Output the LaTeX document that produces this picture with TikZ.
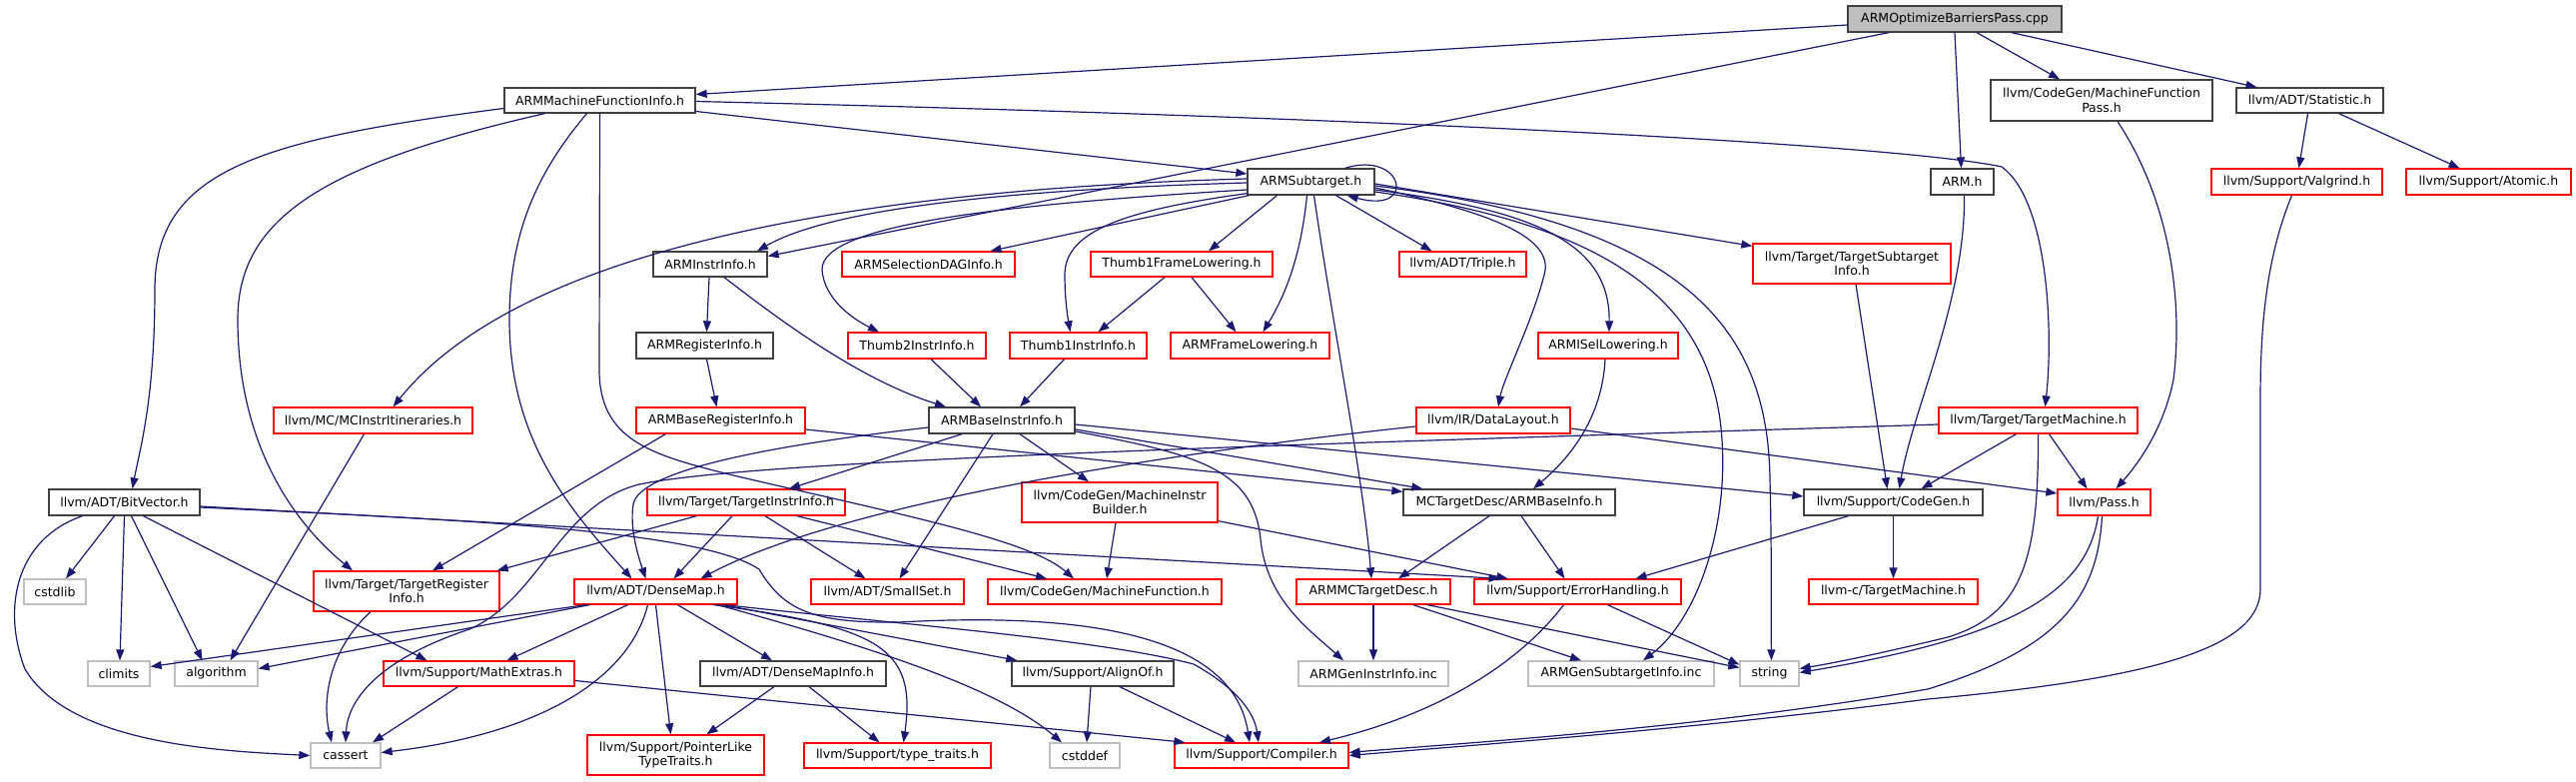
\documentclass[tikz,border=0pt]{standalone}
\usepackage{fontspec}
\setmainfont{DejaVu Sans}
\usetikzlibrary{arrows.meta,calc}
\definecolor{edgec}{HTML}{191970}
\definecolor{redb}{HTML}{FF0000}
\definecolor{greyb}{HTML}{BFBFBF}
\definecolor{blackb}{HTML}{404040}
\begin{document}
\begin{tikzpicture}[x=1pt,y=-1pt,
  box/.style={rectangle, draw, line width=1.3pt, fill=white, inner sep=0pt, align=center, text=black, font=\fontsize{12.5}{14.5}\selectfont},
  redbox/.style={box, draw=redb},
  blkbox/.style={box, draw=blackb},
  grybox/.style={box, draw=greyb},
  rootbox/.style={box, draw=blackb, fill=greyb},
  e/.style={draw=edgec, line width=1.2pt, -{Triangle[length=11pt,width=8pt]}}]
\useasboundingbox (0,0) rectangle (2579,783);
% nodes
\node[rootbox, minimum width=214pt, minimum height=26pt] (A) at (1957,19) {ARMOptimizeBarriersPass.cpp};
\node[blkbox, minimum width=191pt, minimum height=25pt] (AMFI) at (600.5,100.5) {ARMMachineFunctionInfo.h};
\node[blkbox, minimum width=222pt, minimum height=41pt] (MFP) at (2104,100.5) {llvm/CodeGen/MachineFunction\\Pass.h};
\node[blkbox, minimum width=147pt, minimum height=25pt] (Stat) at (2312.5,100.5) {llvm/ADT/Statistic.h};
\node[blkbox, minimum width=63pt, minimum height=26pt] (ARMh) at (1964.5,182) {ARM.h};
\node[redbox, minimum width=171pt, minimum height=26pt] (Valg) at (2299.5,182) {llvm/Support/Valgrind.h};
\node[redbox, minimum width=165pt, minimum height=26pt] (Atom) at (2491.5,182) {llvm/Support/Atomic.h};
\node[blkbox, minimum width=127pt, minimum height=26pt] (Sub) at (1312.5,182) {ARMSubtarget.h};
\node[blkbox, minimum width=114pt, minimum height=25pt] (II) at (711,264.5) {ARMInstrInfo.h};
\node[redbox, minimum width=173pt, minimum height=25pt] (DAG) at (929.5,264.5) {ARMSelectionDAGInfo.h};
\node[redbox, minimum width=182pt, minimum height=25pt] (T1FL) at (1183,264.5) {Thumb1FrameLowering.h};
\node[redbox, minimum width=127pt, minimum height=25pt] (Trip) at (1464.5,264.5) {llvm/ADT/Triple.h};
\node[redbox, minimum width=198pt, minimum height=40pt] (TSI) at (1854,264) {llvm/Target/TargetSubtarget\\Info.h};
\node[blkbox, minimum width=137pt, minimum height=26pt] (RI) at (705.5,346) {ARMRegisterInfo.h};
\node[redbox, minimum width=138pt, minimum height=26pt] (T2II) at (918,346) {Thumb2InstrInfo.h};
\node[redbox, minimum width=137pt, minimum height=26pt] (T1II) at (1079.5,346) {Thumb1InstrInfo.h};
\node[redbox, minimum width=159pt, minimum height=26pt] (FL) at (1251.5,346) {ARMFrameLowering.h};
\node[redbox, minimum width=140pt, minimum height=26pt] (ISel) at (1610,346) {ARMISelLowering.h};
\node[redbox, minimum width=199pt, minimum height=26pt] (MCII) at (373.5,421) {llvm/MC/MCInstrItineraries.h};
\node[redbox, minimum width=169pt, minimum height=26pt] (BRI) at (721.5,421) {ARMBaseRegisterInfo.h};
\node[blkbox, minimum width=146pt, minimum height=26pt] (BII) at (1003,421) {ARMBaseInstrInfo.h};
\node[redbox, minimum width=154pt, minimum height=26pt] (DL) at (1495,421) {llvm/IR/DataLayout.h};
\node[redbox, minimum width=199pt, minimum height=26pt] (TM) at (2040.5,421) {llvm/Target/TargetMachine.h};
\node[blkbox, minimum width=151pt, minimum height=26pt] (BV) at (124.5,503) {llvm/ADT/BitVector.h};
\node[redbox, minimum width=198pt, minimum height=26pt] (TII) at (747,503) {llvm/Target/TargetInstrInfo.h};
\node[redbox, minimum width=196pt, minimum height=40pt] (MIB) at (1121,503) {llvm/CodeGen/MachineInstr\\Builder.h};
\node[blkbox, minimum width=212pt, minimum height=26pt] (BI) at (1511,503) {MCTargetDesc/ARMBaseInfo.h};
\node[blkbox, minimum width=179pt, minimum height=26pt] (CG) at (1895.5,503) {llvm/Support/CodeGen.h};
\node[redbox, minimum width=93pt, minimum height=26pt] (Pass) at (2106.5,503) {llvm/Pass.h};
\node[grybox, minimum width=62pt, minimum height=25pt] (cstdlib) at (55,592.5) {cstdlib};
\node[redbox, minimum width=186pt, minimum height=40pt] (TRI) at (407,592) {llvm/Target/TargetRegister\\Info.h};
\node[redbox, minimum width=163pt, minimum height=25pt] (DM) at (656.5,592.5) {llvm/ADT/DenseMap.h};
\node[redbox, minimum width=153pt, minimum height=25pt] (SS) at (888.5,592.5) {llvm/ADT/SmallSet.h};
\node[redbox, minimum width=234pt, minimum height=25pt] (MF) at (1106,592.5) {llvm/CodeGen/MachineFunction.h};
\node[redbox, minimum width=154pt, minimum height=25pt] (MCTD) at (1375,592.5) {ARMMCTargetDesc.h};
\node[redbox, minimum width=207pt, minimum height=25pt] (EH) at (1579.5,592.5) {llvm/Support/ErrorHandling.h};
\node[redbox, minimum width=169pt, minimum height=25pt] (LCTM) at (1895.5,592.5) {llvm-c/TargetMachine.h};
\node[grybox, minimum width=62pt, minimum height=25pt] (climits) at (119,674.5) {climits};
\node[grybox, minimum width=83pt, minimum height=25pt] (algorithm) at (216.5,674.5) {algorithm};
\node[redbox, minimum width=191pt, minimum height=25pt] (ME) at (479.5,674.5) {llvm/Support/MathExtras.h};
\node[blkbox, minimum width=186pt, minimum height=25pt] (DMI) at (794,674.5) {llvm/ADT/DenseMapInfo.h};
\node[blkbox, minimum width=162pt, minimum height=25pt] (AO) at (1094,674.5) {llvm/Support/AlignOf.h};
\node[grybox, minimum width=150pt, minimum height=25pt] (GII) at (1375,674.5) {ARMGenInstrInfo.inc};
\node[grybox, minimum width=186pt, minimum height=25pt] (GSI) at (1623,674.5) {ARMGenSubtargetInfo.inc};
\node[grybox, minimum width=59pt, minimum height=25pt] (string) at (1771.5,674.5) {string};
\node[grybox, minimum width=70pt, minimum height=25pt] (cassert) at (346,756.5) {cassert};
\node[redbox, minimum width=177pt, minimum height=40pt] (PLT) at (676.5,756) {llvm/Support/PointerLike\\TypeTraits.h};
\node[redbox, minimum width=187pt, minimum height=25pt] (TT) at (898.5,756.5) {llvm/Support/type\_traits.h};
\node[grybox, minimum width=70pt, minimum height=25pt] (cstddef) at (1086,756.5) {cstddef};
\node[redbox, minimum width=174pt, minimum height=25pt] (Comp) at (1263,756.5) {llvm/Support/Compiler.h};
% edges from root
\draw[e] ($(A.west)+(0,6)$) -- ($(AMFI.east)+(0,-6)$);
\draw[e] ($(A.south)+(-66,0)$) -- ($(II.east)+(0,-8)$);
\draw[e] (A.south) -- ($(ARMh.north)+(-1,0)$);
\draw[e] ($(A.south)+(22,0)$) -- ($(MFP.north)+(-42,0)$);
\draw[e] ($(A.south)+(57,0)$) -- ($(Stat.north)+(-53,0)$);
% ARMMachineFunctionInfo
\draw[e] ($(AMFI.east)+(0,11)$) -- ($(Sub.west)+(0,-8)$);
\draw[e] ($(AMFI.east)+(0,1)$) .. controls (1400,118) and (1900,145) .. (2004,167) .. controls (2050,200) and (2056,330) .. ($(TM.north)+(7,0)$);
\draw[e] ($(AMFI.west)+(0,8)$) .. controls (260,140) and (155,170) .. (155,290) .. controls (155,400) and (140,450) .. ($(BV.north)+(8,0)$);
\draw[e] ($(AMFI.south)+(-55,0)$) .. controls (320,165) and (238,220) .. (238,320) .. controls (238,440) and (290,520) .. ($(TRI.north)+(-54,0)$);
\draw[e] ($(AMFI.south)+(-13,0)$) .. controls (540,170) and (510,230) .. (510,320) .. controls (510,440) and (570,510) .. ($(DM.north)+(-24,0)$);
\draw[e] (AMFI.south) -- (600,370) .. controls (600,440) and (650,455) .. (730,475) .. controls (900,515) and (1030,540) .. ($(MF.north)+(-31,0)$);
% ARMSubtarget
\draw[e] ($(Sub.north east)+(-30,0)$) .. controls (1405,150) and (1420,215) .. ($(Sub.south east)+(-28,0)$);
\draw[e] ($(Sub.west)+(0,1)$) .. controls (1000,190) and (830,210) .. ($(II.north)+(47,0)$);
\draw[e] ($(Sub.west)+(0,-3)$) .. controls (850,190) and (520,250) .. ($(MCII.north)+(20,0)$);
\draw[e] ($(Sub.west)+(0,8)$) .. controls (1000,205) and (822,225) .. (823,270) .. controls (825,300) and (855,320) .. ($(T2II.north)+(-38,0)$);
\draw[e] ($(Sub.south west)+(2,0)$) -- ($(DAG.north)+(62,0)$);
\draw[e] ($(Sub.south west)+(0,-2)$) .. controls (1130,210) and (1066,230) .. (1066,275) .. controls (1066,300) and (1069,318) .. ($(T1II.north)+(-8,0)$);
\draw[e] ($(Sub.south)+(-34,0)$) -- ($(T1FL.north)+(27,0)$);
\draw[e] ($(Sub.south)+(-4,0)$) .. controls (1303,250) and (1290,290) .. ($(FL.north)+(13,0)$);
\draw[e] ($(Sub.south)+(3,0)$) .. controls (1335,330) and (1365,480) .. ($(MCTD.north)+(-2,0)$);
\draw[e] ($(Sub.south)+(25,0)$) -- ($(Trip.north)+(-31,0)$);
\draw[e] ($(Sub.east)+(0,6)$) .. controls (1480,210) and (1558,235) .. (1546,275) .. controls (1535,320) and (1505,380) .. ($(DL.north)+(5,0)$);
\draw[e] ($(Sub.east)+(0,8)$) .. controls (1530,210) and (1612,240) .. ($(ISel.north)+(1,0)$);
\draw[e] ($(Sub.east)+(0,10)$) .. controls (1610,225) and (1705,300) .. (1722,420) .. controls (1735,520) and (1700,620) .. ($(GSI.north)+(22,0)$);
\draw[e] ($(Sub.east)+(0,4)$) .. controls (1690,225) and (1770,330) .. (1772,480) .. controls (1774,560) and (1773,620) .. ($(string.north)+(2,0)$);
\draw[e] ($(Sub.east)+(0,2)$) -- ($(TSI.north west)+(0,3)$);
% instr info level
\draw[e] ($(II.south)+(-1,0)$) -- ($(RI.north)+(2,0)$);
\draw[e] ($(II.south)+(14,0)$) .. controls (780,320) and (860,380) .. ($(BII.north)+(-56,0)$);
\draw[e] ($(RI.south)+(2,0)$) -- ($(BRI.north)+(-4,0)$);
\draw[e] ($(T2II.south)+(14,0)$) -- ($(BII.north)+(-21,0)$);
\draw[e] ($(T1II.south)+(-14,0)$) -- ($(BII.north)+(18,0)$);
\draw[e] ($(T1FL.south)+(-17,0)$) -- ($(T1II.north)+(20,0)$);
\draw[e] ($(T1FL.south)+(10,0)$) -- ($(FL.north)+(-14,0)$);
\draw[e] ($(Stat.south)+(-2,0)$) -- ($(Valg.north)+(2,0)$);
\draw[e] ($(Stat.south)+(29,0)$) -- ($(Atom.north)+(-29,0)$);
\draw[e] ($(MFP.south)+(16,0)$) .. controls (2172,200) and (2186,300) .. (2176,380) .. controls (2166,430) and (2140,465) .. ($(Pass.north)+(12,0)$);
\draw[e] ($(ARMh.south)+(2,0)$) .. controls (1968,300) and (1915,410) .. ($(CG.north)+(6,0)$);
\draw[e] ($(TSI.south)+(4,0)$) -- ($(CG.north)+(-6,0)$);
\draw[e] ($(TM.south)+(-22,0)$) -- ($(CG.north)+(28,0)$);
\draw[e] ($(TM.south)+(11,0)$) -- ($(Pass.north)+(-17,0)$);
\draw[e] (TM.south) .. controls (2041,560) and (2025,615) .. (1950,638) .. controls (1880,655) and (1835,664) .. ($(string.east)+(0,-5)$);
\draw[e] ($(TM.west)+(0,4)$) .. controls (1300,445) and (760,460) .. (640,485) .. controls (560,505) and (540,600) .. (470,630) .. controls (380,660) and (348,700) .. (cassert.north);
\draw[e] ($(DL.west)+(0,6)$) .. controls (1200,450) and (850,500) .. ($(DM.north)+(45,0)$);
\draw[e] ($(DL.east)+(0,8)$) -- ($(Pass.west)+(0,-9)$);
\draw[e] ($(ISel.south)+(-3,0)$) .. controls (1604,420) and (1570,460) .. ($(BI.north)+(24,0)$);
% base instr info
\draw[e] ($(BII.south)+(-40,0)$) -- ($(TII.north)+(43,0)$);
\draw[e] ($(BII.south)+(-9,0)$) -- ($(SS.north)+(12,0)$);
\draw[e] ($(BII.south)+(18,0)$) -- ($(MIB.north)+(-31,0)$);
\draw[e] ($(BII.west)+(0,7)$) .. controls (780,445) and (640,470) .. (634,505) .. controls (630,530) and (640,560) .. ($(DM.north)+(-10,0)$);
\draw[e] ($(BII.east)+(0,9)$) -- ($(BI.north west)+(20,0)$);
\draw[e] ($(BRI.east)+(0,9)$) -- ($(BI.north west)+(0,3)$);
\draw[e] ($(BII.east)+(0,4)$) -- ($(CG.west)+(0,-6)$);
\draw[e] ($(BII.east)+(0,11)$) .. controls (1200,455) and (1255,470) .. (1262,540) .. controls (1268,600) and (1310,630) .. ($(GII.north)+(-30,0)$);
\draw[e] ($(BRI.south west)+(30,0)$) -- ($(TRI.north)+(26,0)$);
\draw[e] ($(TII.south west)+(50,0)$) -- ($(TRI.north east)+(-3,0)$);
\draw[e] ($(TII.south)+(-14,0)$) -- ($(DM.north)+(18,0)$);
\draw[e] ($(TII.south)+(19,0)$) -- ($(SS.north)+(-22,0)$);
\draw[e] ($(TII.south)+(51,0)$) -- ($(MF.north)+(-58,0)$);
\draw[e] ($(MIB.south)+(-4,0)$) -- ($(MF.north)+(2,0)$);
\draw[e] ($(MIB.south east)+(0,-2)$) -- ($(EH.north)+(-70,0)$);
% bitvector
\draw[e] ($(BV.east)+(0,4)$) -- ($(EH.north)+(-78,0)$);
\draw[e] ($(BV.east)+(0,5)$) .. controls (450,520) and (700,530) .. (760,570) .. controls (785,612) and (815,624) .. (900,623) .. controls (1100,612) and (1235,640) .. ($(Comp.north)+(-12,0)$);
\draw[e] ($(BV.south)+(-42,0)$) .. controls (15,540) and (2,610) .. (25,670) .. controls (70,745) and (220,752) .. (cassert.west);
\draw[e] ($(BV.south)+(-10,0)$) -- ($(cstdlib.north)+(11,0)$);
\draw[e] (BV.south) -- ($(climits.north)+(1,0)$);
\draw[e] ($(BV.south)+(7,0)$) -- ($(algorithm.north)+(-14,0)$);
\draw[e] ($(BV.south)+(19,0)$) -- ($(ME.north)+(-52,0)$);
\draw[e] ($(MCII.south)+(-9,0)$) -- ($(algorithm.north)+(14,0)$);
\draw[e] ($(TRI.south)+(-36,0)$) .. controls (330,650) and (322,700) .. ($(cassert.north)+(-14,0)$);
% densemap
\draw[e] ($(DM.south west)+(12,0)$) -- ($(climits.east)+(0,-7)$);
\draw[e] ($(DM.south west)+(16,0)$) -- ($(algorithm.east)+(0,-5)$);
\draw[e] ($(DM.south)+(-28,0)$) -- ($(ME.north)+(28,0)$);
\draw[e] ($(DM.south)+(-8,0)$) .. controls (630,680) and (540,735) .. ($(cassert.east)+(0,-3)$);
\draw[e] (DM.south) -- ($(PLT.north)+(-5,0)$);
\draw[e] ($(DM.south)+(22,0)$) -- ($(DMI.north)+(-21,0)$);
\draw[e] ($(DM.south)+(58,0)$) .. controls (880,628) and (918,648) .. ($(TT.north)+(6,0)$);
\draw[e] ($(DM.south)+(62,0)$) .. controls (880,650) and (1000,690) .. ($(cstddef.north)+(-23,0)$);
\draw[e] ($(DM.south east)+(-15,0)$) -- ($(AO.north west)+(6,0)$);
\draw[e] ($(DM.south east)+(-13,0)$) .. controls (900,625) and (1100,640) .. (1195,665) .. controls (1240,690) and (1256,715) .. ($(Comp.north)+(-3,0)$);
\draw[e] ($(DMI.south)+(-19,0)$) -- ($(PLT.north)+(31,0)$);
\draw[e] ($(DMI.south)+(16,0)$) -- ($(TT.north)+(-18,0)$);
\draw[e] ($(AO.south)+(-2,0)$) -- ($(cstddef.north)+(2,0)$);
\draw[e] ($(AO.south)+(27,0)$) -- ($(Comp.north)+(-26,0)$);
\draw[e] ($(ME.south)+(-21,0)$) -- ($(cassert.north)+(27,0)$);
\draw[e] ($(ME.east)+(0,7)$) -- ($(Comp.north west)+(11,0)$);
% right lower part
\draw[e] ($(BI.south)+(-20,0)$) -- ($(MCTD.north)+(25,0)$);
\draw[e] ($(BI.south)+(12,0)$) -- ($(EH.north)+(-13,0)$);
\draw[e] ($(CG.south)+(-45,0)$) -- ($(EH.north)+(58,0)$);
\draw[e] (CG.south) -- (LCTM.north);
\draw[e] (MCTD.south) -- (GII.north);
\draw[e] ($(MCTD.south)+(40,0)$) -- ($(GSI.north)+(-40,0)$);
\draw[e] ($(MCTD.south)+(54,0)$) -- ($(string.west)+(0,-6)$);
\draw[e] ($(EH.south)+(30,0)$) -- ($(string.west)+(0,-9)$);
\draw[e] ($(EH.south)+(-14,0)$) .. controls (1520,665) and (1440,715) .. ($(Comp.north)+(58,0)$);
\draw[e] ($(Pass.south)+(-6,0)$) .. controls (2088,600) and (2000,640) .. ($(string.east)+(0,-1)$);
\draw[e] ($(Pass.south)+(-2,0)$) .. controls (2100,600) and (2060,650) .. (1930,690) .. controls (1700,730) and (1450,745) .. ($(Comp.east)+(0,-3)$);
\draw[e] ($(Valg.south)+(-5,0)$) .. controls (2268,260) and (2263,330) .. (2263,400) -- (2263,590) .. controls (2263,650) and (2150,680) .. (1930,700) .. controls (1700,730) and (1450,748) .. (Comp.east);
\end{tikzpicture}
\end{document}
